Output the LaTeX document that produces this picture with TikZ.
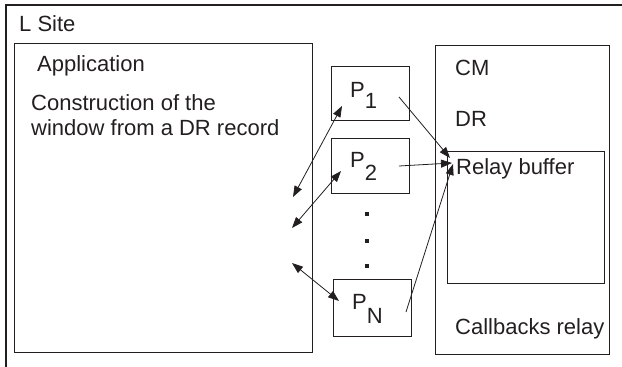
\documentclass[tikz,border=0pt]{standalone}
\usepackage{fontspec}
\setmainfont{Liberation Sans}
\usetikzlibrary{arrows.meta}
\definecolor{ink}{HTML}{231F20}
\tikzset{
  box/.style={draw=ink, line width=1.2pt, inner sep=0pt, anchor=north west},
  lbl/.style={anchor=base west, inner sep=0pt, text=ink, font=\fontsize{22}{26}\selectfont},
  conn/.style={draw=ink, line width=0.8pt, -{Triangle[length=11pt,width=8pt]}},
  dconn/.style={draw=ink, line width=0.8pt, {Triangle[length=11pt,width=8pt]}-{Triangle[length=11pt,width=8pt]}},
  dotmark/.style={fill=ink, inner sep=0pt, minimum size=3.5pt, rectangle}
}
\begin{document}
\begin{tikzpicture}[x=1pt,y=-1pt]
\useasboundingbox (0,0) rectangle (622,367);
% L Site frame
\draw[draw=ink, line width=1.1pt] (6,367) -- (6,5) -- (622,5);
\node[lbl] (lsite) at (19,31) {L Site};
% Application
\node[box, minimum width=298pt, minimum height=309pt] (app) at (14,43) {};
\node[lbl] (apptitle) at (37,71) {Application};
\node[lbl] (constr1) at (31,110) {Construction of the};
\node[lbl] (constr2) at (31,135) {window from a DR record};
% P boxes
\node[box, minimum width=78pt, minimum height=54pt] (p1) at (331,66) {};
\node[box, minimum width=78pt, minimum height=55pt] (p2) at (331,138) {};
\node[box, minimum width=78pt, minimum height=57pt] (pn) at (333,279) {};
\node[lbl] (p1t) at (350,97) {P\raisebox{-11pt}{1}};
\node[lbl] (p2t) at (350,167) {P\raisebox{-13pt}{2}};
\node[lbl] (pnt) at (352,309) {P\raisebox{-14pt}{N}};
\node[dotmark] (d1) at (367,214) {};
\node[dotmark] (d2) at (367,241) {};
\node[dotmark] (d3) at (367,266) {};
% CM
\node[box, minimum width=174pt, minimum height=309pt] (cm) at (435,45) {};
\node[lbl] (cmt) at (455,75) {CM};
\node[lbl] (drt) at (455,126) {DR};
\node[box, minimum width=157pt, minimum height=132pt] (relay) at (447,151) {};
\node[lbl] (relayt) at (456,174) {Relay buffer};
\node[lbl] (cbt) at (455,334) {Callbacks relay};
% connector ends
\coordinate (a1) at (293,197);
\coordinate (b1) at (342,106);
\coordinate (a2) at (292,228);
\coordinate (b2) at (341,171);
\coordinate (a3) at (292,263);
\coordinate (b3) at (339,301);
\coordinate (s1) at (399,97);
\coordinate (s2) at (399,166);
\coordinate (s3) at (406,312);
\coordinate (e1) at (450,158);
\coordinate (e2) at (452,163);
\coordinate (e3) at (453,164);
\draw[dconn] (a1) -- (b1);
\draw[dconn] (a2) -- (b2);
\draw[dconn] (a3) -- (b3);
\draw[conn] (s1) -- (e1);
\draw[conn] (s2) -- (e2);
\draw[conn] (s3) -- (e3);
\end{tikzpicture}
\end{document}
